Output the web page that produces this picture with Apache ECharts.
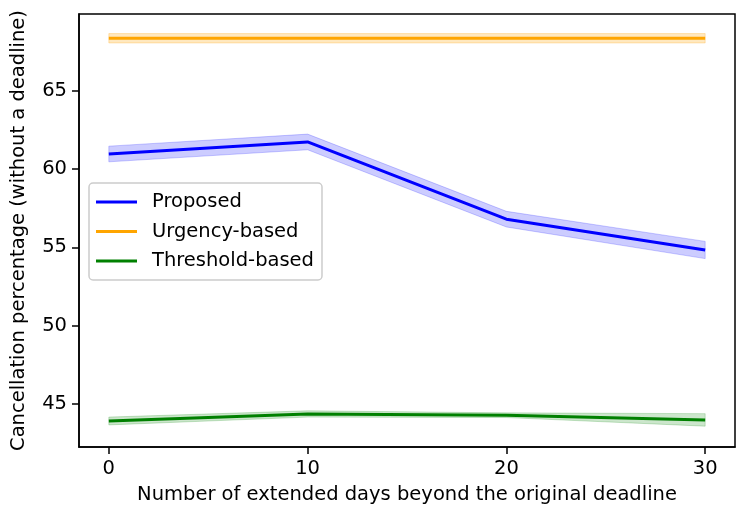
<!DOCTYPE html>
<html>
<head>
<meta charset="utf-8">
<script src="https://cdn.jsdelivr.net/npm/echarts@6/dist/echarts.min.js"></script>
<style>html,body{margin:0;padding:0;background:#fff;}#c{width:747px;height:520px;}</style>
</head>
<body>
<div id="c"></div>
<script>
var days = [0, 10, 20, 30];
var xTicks = [0, 10, 20, 30];
var yTicks = [45, 50, 55, 60, 65];

var proposedMean = [60.96, 61.73, 56.80, 54.83];
var proposedErr  = [0.50, 0.50, 0.50, 0.55];
var urgencyMean  = [68.35, 68.35, 68.35, 68.35];
var urgencyErr   = [0.30, 0.30, 0.30, 0.30];
var thresholdMean = [43.91, 44.36, 44.28, 43.98];
var thresholdErr  = [0.25, 0.20, 0.15, 0.40];

var names = ['Proposed', 'Urgency-based', 'Threshold-based'];
var colors = ['#0000ff', '#ffa500', '#008000'];
var bandColors = ['rgba(0,0,255,0.2)', 'rgba(255,165,0,0.25)', 'rgba(0,128,0,0.2)'];
var means = [proposedMean, urgencyMean, thresholdMean];
var errs = [proposedErr, urgencyErr, thresholdErr];

var FONT = 'DejaVu Sans';
var FS = 19.5;
var series = [];
for (var k0 = 0; k0 < 3; k0++) {
  (function (k) {
    var bandData = days.map(function (d, i) { return [d, means[k][i] - errs[k][i], means[k][i] + errs[k][i]]; });
    series.push({
      name: names[k] + '_band', type: 'custom', silent: true, z: 1,
      data: bandData,
      encode: { x: 0, y: [1, 2] },
      renderItem: function (params, api) {
        if (params.dataIndex !== 0) return null;
        var upper = [], lower = [];
        for (var i = 0; i < bandData.length; i++) {
          upper.push(api.coord([bandData[i][0], bandData[i][2]]));
          lower.unshift(api.coord([bandData[i][0], bandData[i][1]]));
        }
        return {
          type: 'polygon',
          shape: { points: upper.concat(lower) },
          style: { fill: bandColors[k], stroke: bandColors[k], lineWidth: 1 }
        };
      }
    });
  })(k0);
}
for (var k2 = 0; k2 < 3; k2++) {
  (function (k) {
    series.push({
      name: names[k], type: 'line', symbol: 'none', z: 5,
      data: days.map(function (d, i) { return [d, means[k][i]]; }),
      lineStyle: { color: colors[k], width: 3 },
      itemStyle: { color: colors[k] }
    });
  })(k2);
}

var chart = echarts.init(document.getElementById('c'));
chart.setOption({
  animation: false,
  backgroundColor: '#fff',
  grid: { left: 79, right: 12, top: 14, bottom: 73, show: true, borderColor: '#000', borderWidth: 1.5, backgroundColor: 'transparent' },
  legend: {
    data: names,
    orient: 'vertical',
    left: 89, top: 183,
    icon: 'rect',
    itemWidth: 41, itemHeight: 3,
    itemGap: 9.5,
    padding: [9, 8, 9, 7],
    backgroundColor: 'rgba(255,255,255,0.8)',
    borderColor: '#cccccc', borderWidth: 1.5, borderRadius: 4,
    textStyle: { fontFamily: FONT, fontSize: FS, color: '#000', padding: [0, 0, 0, 10] }
  },
  xAxis: {
    type: 'value', min: -1.5, max: 31.5,
    splitLine: { show: false },
    axisLine: { show: true, onZero: false, lineStyle: { color: '#000', width: 1.5 } },
    axisTick: { show: true, length: 7, lineStyle: { color: '#000', width: 1.5 }, customValues: xTicks },
    axisLabel: { margin: 12, fontFamily: FONT, fontSize: FS, color: '#000', customValues: xTicks },
    name: 'Number of extended days beyond the original deadline',
    nameLocation: 'middle', nameGap: 38,
    nameTextStyle: { fontFamily: FONT, fontSize: FS, color: '#000', verticalAlign: 'top' }
  },
  yAxis: {
    type: 'value', min: 42.25, max: 69.9,
    splitLine: { show: false },
    axisLine: { show: true, onZero: false, lineStyle: { color: '#000', width: 1.5 } },
    axisTick: { show: true, length: 7, lineStyle: { color: '#000', width: 1.5 }, customValues: yTicks },
    axisLabel: { margin: 12, fontFamily: FONT, fontSize: FS, color: '#000', customValues: yTicks },
    name: 'Cancellation percentage (without a deadline)',
    nameLocation: 'middle', nameGap: 60,
    nameTextStyle: { fontFamily: FONT, fontSize: FS, color: '#000', verticalAlign: 'middle' }
  },
  series: series
});
</script>
</body>
</html>
